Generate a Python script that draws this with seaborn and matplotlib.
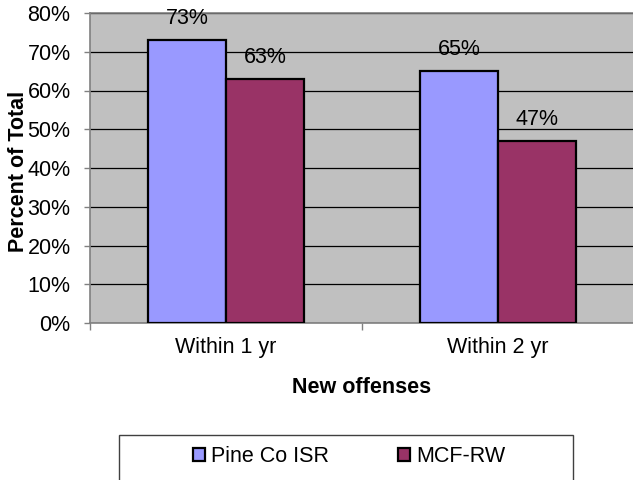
import matplotlib
matplotlib.use("Agg")
import matplotlib.pyplot as plt
from matplotlib.patches import Patch, Rectangle
from matplotlib.ticker import FixedLocator, FuncFormatter
import pandas as pd
import seaborn as sns

# Share of offenders with a new offense, by follow-up window
periods = ["Within 1 yr", "Within 2 yr"]
programs = ["Pine Co ISR", "MCF-RW"]
pine_co_isr = [73, 65]
mcf_rw = [63, 47]
y_ticks = [0, 10, 20, 30, 40, 50, 60, 70, 80]

colors = ["#9999FF", "#993366"]

df = pd.DataFrame({
    "period": periods * 2,
    "program": [programs[0]] * 2 + [programs[1]] * 2,
    "pct": pine_co_isr + mcf_rw,
})

sns.set_theme(style="white")
plt.rcParams["font.family"] = ["Liberation Sans", "DejaVu Sans"]
plt.rcParams.update({"text.color": "black", "axes.labelcolor": "black",
                     "xtick.color": "black", "ytick.color": "black"})
FS = 15.5

fig = plt.figure(figsize=(6.33, 4.80), dpi=100)
W, H = 633, 480
ax = fig.add_axes([90 / W, 1 - 323 / H, 544 / W, 310 / H])
ax.set_facecolor("#C0C0C0")

sns.barplot(data=df, x="period", y="pct", hue="program", order=periods,
            hue_order=programs, palette=colors, saturation=1, width=0.575,
            edgecolor="black", linewidth=1.6, legend=False, ax=ax, zorder=3)

for cont in ax.containers:
    ax.bar_label(cont, labels=[f"{v:.0f}%" for v in cont.datavalues],
                 padding=8, fontsize=FS, color="black")

ax.set_ylim(0, 80)
ax.set_xlim(-0.5, 1.5)
ax.yaxis.set_major_locator(FixedLocator(y_ticks))
ax.yaxis.set_major_formatter(FuncFormatter(lambda v, _: f"{v:.0f}%"))
ax.grid(axis="y", color="black", linewidth=0.9, zorder=1)
ax.set_axisbelow(True)

ax.xaxis.set_minor_locator(FixedLocator([-0.5, 0.5, 1.5]))
ax.tick_params(axis="x", which="major", length=0, pad=10, labelsize=FS,
               labelcolor="black")
ax.tick_params(axis="x", which="minor", length=5, width=1, color="#808080",
               direction="out", bottom=True)
ax.tick_params(axis="y", which="major", length=4, width=1, color="#808080",
               direction="out", left=True, pad=10, labelsize=FS,
               labelcolor="black")

ax.spines["right"].set_visible(False)
for side in ["left", "bottom", "top"]:
    ax.spines[side].set_color("#808080")
    ax.spines[side].set_linewidth(1.2)

ax.set_xlabel("New offenses", fontsize=FS, fontweight="bold", labelpad=14,
              color="black")
ax.set_ylabel("")
fig.text(19 / W, 1 - 171 / H, "Percent of Total", rotation=90,
         ha="center", va="center", fontsize=FS, fontweight="bold",
         color="black")

# Legend box underneath the chart
fig.patches.append(Rectangle((119 / W, 1 - 481 / H), 454 / W, 46 / H,
                             transform=fig.transFigure, fill=False,
                             edgecolor="#404040", linewidth=1))
handles = [Patch(facecolor=c, edgecolor="black", linewidth=1.6, label=p)
           for c, p in zip(colors, programs)]
fig.legend(handles=handles, loc="center", bbox_to_anchor=(349 / W, 1 - 457 / H),
           ncol=2, frameon=False, fontsize=FS, handlelength=0.55,
           handleheight=0.55, handletextpad=0.3, columnspacing=3.2,
           labelcolor="black")

fig.savefig("out.png", dpi=100)
